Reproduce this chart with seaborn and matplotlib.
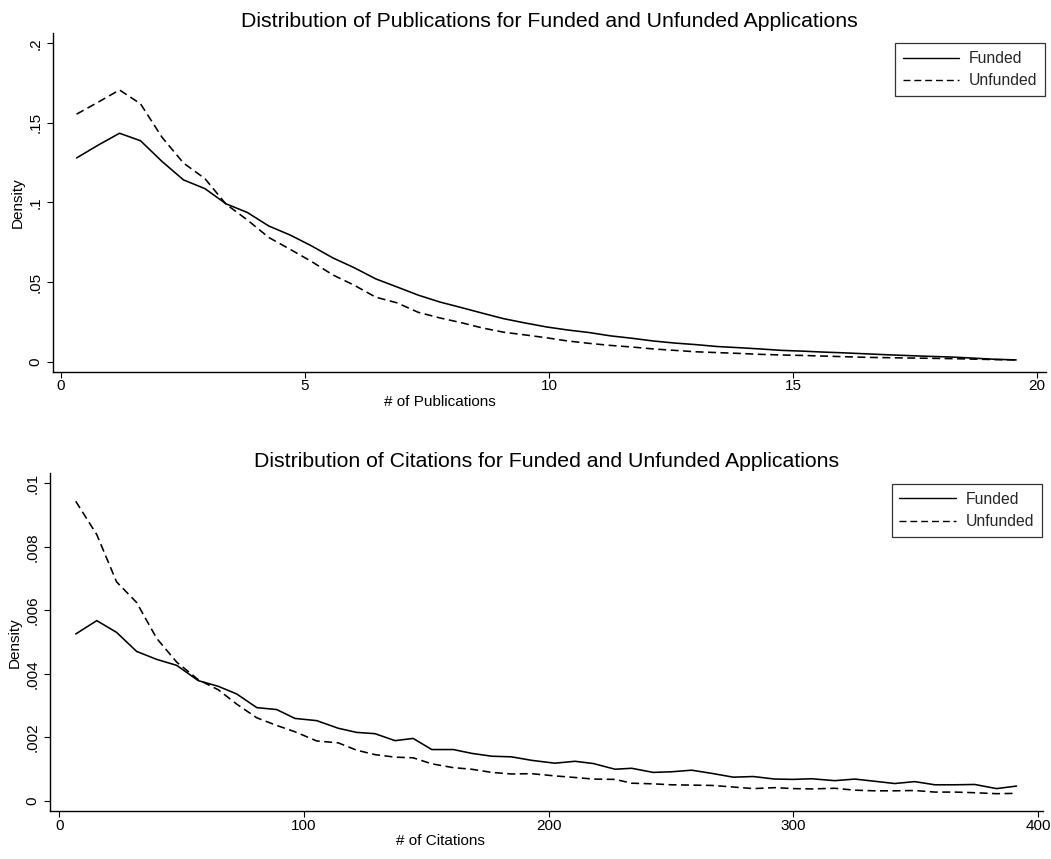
import numpy as np
import pandas as pd
import matplotlib
matplotlib.use("Agg")
import matplotlib.pyplot as plt
import seaborn as sns

# ---------------- data ----------------
pub_x = [0.32, 0.76, 1.20, 1.63, 2.07, 2.51, 2.95, 3.38, 3.82, 4.26, 4.70, 5.13,
         5.57, 6.01, 6.45, 6.88, 7.32, 7.76, 8.20, 8.63, 9.07, 9.51, 9.95, 10.38,
         10.82, 11.26, 11.70, 12.13, 12.57, 13.01, 13.45, 13.88, 14.32, 14.76,
         15.20, 15.63, 16.07, 16.51, 16.95, 17.38, 17.82, 18.26, 18.70, 19.13, 19.57]
pub_funded = [0.128, 0.136, 0.1435, 0.1388, 0.1258, 0.1142, 0.1087, 0.0992, 0.0937,
              0.0852, 0.0795, 0.0728, 0.0652, 0.0590, 0.0520, 0.0470, 0.0418, 0.0375,
              0.0340, 0.0305, 0.0270, 0.0243, 0.0218, 0.0199, 0.0183, 0.0162, 0.0147,
              0.0130, 0.0117, 0.0107, 0.0095, 0.0088, 0.0080, 0.0071, 0.0066, 0.0060,
              0.0055, 0.0049, 0.0043, 0.0038, 0.0033, 0.0029, 0.0022, 0.0015, 0.0011]
pub_unfunded = [0.1555, 0.163, 0.1707, 0.162, 0.141, 0.1248, 0.1150, 0.0990, 0.0890,
                0.0780, 0.0705, 0.0630, 0.0545, 0.0480, 0.0405, 0.0370, 0.0310, 0.0275,
                0.0245, 0.0212, 0.0185, 0.0168, 0.0150, 0.0130, 0.0115, 0.0102, 0.0092,
                0.0080, 0.0071, 0.0062, 0.0057, 0.0052, 0.0046, 0.0042, 0.0039, 0.0035,
                0.0031, 0.0027, 0.0025, 0.0023, 0.0021, 0.0019, 0.0016, 0.0013, 0.0011]

cit_x = [6.7, 15.3, 23.4, 31.6, 39.8, 48.0, 56.8, 65.0, 72.5, 80.7, 88.8, 96.3,
         105.2, 114.0, 121.5, 129.0, 137.2, 144.6, 152.2, 161.0, 168.5, 176.7,
         184.8, 193.0, 202.5, 210.7, 218.2, 227.1, 233.9, 242.7, 250.2, 258.4,
         266.6, 275.4, 283.6, 292.4, 299.9, 307.4, 316.9, 325.1, 333.3, 341.4,
         349.6, 357.8, 366.0, 374.1, 383.0, 391.2]
cit_funded = [0.00526, 0.00568, 0.00531, 0.00471, 0.00446, 0.00427, 0.00379, 0.00361,
              0.00337, 0.00294, 0.00288, 0.00260, 0.00253, 0.00229, 0.00216, 0.00212,
              0.00190, 0.00197, 0.00162, 0.00162, 0.00150, 0.00141, 0.00139, 0.00128,
              0.00119, 0.00125, 0.00118, 0.00100, 0.00103, 0.00090, 0.00092, 0.00097,
              0.00087, 0.00075, 0.00077, 0.00069, 0.00068, 0.00070, 0.00064, 0.00069,
              0.00062, 0.00055, 0.00061, 0.00051, 0.00051, 0.00052, 0.00039, 0.00047]
cit_unfunded = [0.00944, 0.00839, 0.00690, 0.00625, 0.00512, 0.00437, 0.00382, 0.00350,
                0.00305, 0.00262, 0.00238, 0.00218, 0.00189, 0.00183, 0.00160, 0.00146,
                0.00138, 0.00136, 0.00117, 0.00105, 0.00100, 0.00090, 0.00085, 0.00086,
                0.00079, 0.00074, 0.00069, 0.00068, 0.00056, 0.00054, 0.00051, 0.00050,
                0.00049, 0.00044, 0.00039, 0.00042, 0.00039, 0.00038, 0.00040, 0.00034,
                0.00032, 0.00032, 0.00033, 0.00028, 0.00028, 0.00026, 0.00023, 0.00024]

groups = ["Funded", "Unfunded"]

pub_xticks = [0, 5, 10, 15, 20]
pub_xticklabels = ["0", "5", "10", "15", "20"]
pub_yticks = [0, 0.05, 0.10, 0.15, 0.20]
pub_yticklabels = ["0", ".05", ".1", ".15", ".2"]

cit_xticks = [0, 100, 200, 300, 400]
cit_xticklabels = ["0", "100", "200", "300", "400"]
cit_yticks = [0, 0.002, 0.004, 0.006, 0.008, 0.010]
cit_yticklabels = ["0", ".002", ".004", ".006", ".008", ".01"]

titles = ["Distribution of Publications for Funded and Unfunded Applications",
          "Distribution of Citations for Funded and Unfunded Applications"]
xlabels = ["# of Publications", "# of Citations"]

# ---------------- long-form tables ----------------
def long_df(x, f, u):
    return pd.DataFrame({
        "x": list(x) + list(x),
        "density": list(f) + list(u),
        "group": [groups[0]] * len(x) + [groups[1]] * len(x),
    })

df_pub = long_df(pub_x, pub_funded, pub_unfunded)
df_cit = long_df(cit_x, cit_funded, cit_unfunded)

# ---------------- style ----------------
sns.set_theme(style="white")
plt.rcParams["font.family"] = ["Liberation Sans", "DejaVu Sans"]

fig = plt.figure(figsize=(10.51, 8.59), dpi=100)
ax1 = fig.add_axes([0.0501, 0.5673, 0.9451, 0.3943])
ax2 = fig.add_axes([0.0476, 0.0559, 0.9448, 0.3931])

palette = {"Funded": "black", "Unfunded": "black"}
dashes = {"Funded": "", "Unfunded": (5, 2.8)}

panels = [
    (ax1, df_pub, pub_xticks, pub_xticklabels, pub_yticks, pub_yticklabels,
     (-0.17, 20.18), (-0.0063, 0.2065), 0.39, (0.999, 0.9696)),
    (ax2, df_cit, cit_xticks, cit_xticklabels, cit_yticks, cit_yticklabels,
     (-3.8, 402), (-0.000315, 0.01032), 0.393, (0.9987, 0.968)),
]

for i, (ax, df, xt, xtl, yt, ytl, xl, yl, xlab_pos, leg_anchor) in enumerate(panels):
    sns.lineplot(data=df, x="x", y="density", hue="group", style="group",
                 palette=palette, dashes=dashes, linewidth=1.15,
                 estimator=None, sort=False, ax=ax)
    ax.set_xlim(*xl)
    ax.set_ylim(*yl)
    ax.set_xticks(xt)
    ax.set_xticklabels(xtl)
    ax.set_yticks(yt)
    ax.set_yticklabels(ytl, rotation=90, va="center")
    for s in ["top", "right"]:
        ax.spines[s].set_visible(False)
    for s in ["left", "bottom"]:
        ax.spines[s].set_color("black")
        ax.spines[s].set_linewidth(1.0)
    ax.tick_params(axis="both", bottom=True, left=True, direction="out",
                   length=4, width=0.8, color="black", labelsize=11,
                   labelcolor="black")
    ax.tick_params(axis="x", pad=1.5)
    ax.tick_params(axis="y", pad=3.5)
    ax.set_title(titles[i], fontsize=15.3, pad=4.5, color="black")
    ax.set_xlabel(xlabels[i], fontsize=11, x=xlab_pos, labelpad=1, color="black")
    ax.set_ylabel("Density", fontsize=11, labelpad=2.5, color="black")
    ax.grid(False)

    handles, labels = ax.get_legend_handles_labels()
    leg = ax.legend(handles, labels, loc="upper right", bbox_to_anchor=leg_anchor,
                    borderaxespad=0, frameon=True, fancybox=False, fontsize=11.3,
                    handlelength=3.6, handletextpad=0.6, borderpad=0.5,
                    labelspacing=0.45)
    leg.get_frame().set_edgecolor("black")
    leg.get_frame().set_linewidth(0.9)
    for line in leg.get_lines():
        line.set_linewidth(1.0)

fig.savefig("out.png", dpi=100)
